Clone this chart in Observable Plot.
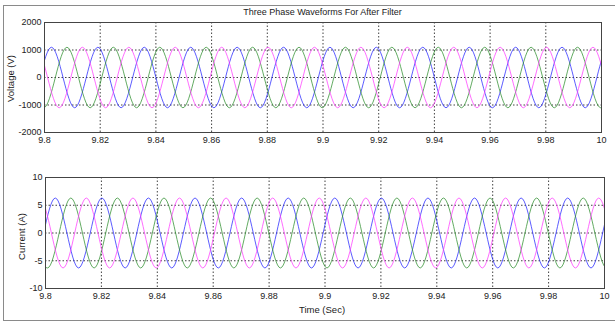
<!DOCTYPE html>
<html>
<head>
<meta charset="utf-8">
<script src="https://cdn.jsdelivr.net/npm/d3@7"></script>
<script src="https://cdn.jsdelivr.net/npm/@observablehq/plot@0.6"></script>
<style>
  html, body { margin: 0; padding: 0; background: #fff; }
  #wrap { position: relative; width: 615px; height: 322px; overflow: hidden; background: #fff; font-family: "Liberation Sans", Arial, sans-serif; }
  #border { position: absolute; left: 3px; top: 5px; width: 700px; height: 314px; border: 1px solid #8a8a8a; }
  #top, #bottom { position: absolute; left: 0; }
  #top { top: 0; }
  #bottom { top: 150px; }
</style>
</head>
<body>
<div id="wrap"><div id="border"></div><div id="top"></div><div id="bottom"></div></div>
<script>
// ---- axis ticks ----
const timeTicks = [9.8, 9.82, 9.84, 9.86, 9.88, 9.9, 9.92, 9.94, 9.96, 9.98, 10];
const timeTickLabels = ["9.8", "9.82", "9.84", "9.86", "9.88", "9.9", "9.92", "9.94", "9.96", "9.98", "10"];
const voltTicks = [-2000, -1000, 0, 1000, 2000];
const voltTickLabels = ["-2000", "-1000", "0", "1000", "2000"];
const currTicks = [-10, -5, 0, 5, 10];
const currTickLabels = ["-10", "-5", "0", "5", "10"];

// ---- phases ----
const phaseNames = ["Phase A", "Phase B", "Phase C"];
const phaseColors = ["#2626ff", "#2f8f2f", "#ff3cff"];

// ---- voltage waveform crests (time of each peak/trough, value) ----
const voltA_t = [9.78583, 9.79417, 9.80250, 9.81083, 9.81917, 9.82750, 9.83583, 9.84417, 9.85250, 9.86083, 9.86917, 9.87750, 9.88583, 9.89417, 9.90250, 9.91083, 9.91917, 9.92750, 9.93583, 9.94417, 9.95250, 9.96083, 9.96917, 9.97750, 9.98583, 9.99417, 10.00250, 10.01083];
const voltA_v = [1100, -1100, 1100, -1100, 1100, -1100, 1100, -1100, 1100, -1100, 1100, -1100, 1100, -1100, 1100, -1100, 1100, -1100, 1100, -1100, 1100, -1100, 1100, -1100, 1100, -1100, 1100, -1100];
const voltB_t = [9.79139, 9.79972, 9.80806, 9.81639, 9.82472, 9.83306, 9.84139, 9.84972, 9.85806, 9.86639, 9.87472, 9.88306, 9.89139, 9.89972, 9.90806, 9.91639, 9.92472, 9.93306, 9.94139, 9.94972, 9.95806, 9.96639, 9.97472, 9.98306, 9.99139, 9.99972, 10.00806, 10.01639];
const voltB_v = [1100, -1100, 1100, -1100, 1100, -1100, 1100, -1100, 1100, -1100, 1100, -1100, 1100, -1100, 1100, -1100, 1100, -1100, 1100, -1100, 1100, -1100, 1100, -1100, 1100, -1100, 1100, -1100];
const voltC_t = [9.78861, 9.79694, 9.80528, 9.81361, 9.82194, 9.83028, 9.83861, 9.84694, 9.85528, 9.86361, 9.87194, 9.88028, 9.88861, 9.89694, 9.90528, 9.91361, 9.92194, 9.93028, 9.93861, 9.94694, 9.95528, 9.96361, 9.97194, 9.98028, 9.98861, 9.99694, 10.00528, 10.01361];
const voltC_v = [-1100, 1100, -1100, 1100, -1100, 1100, -1100, 1100, -1100, 1100, -1100, 1100, -1100, 1100, -1100, 1100, -1100, 1100, -1100, 1100, -1100, 1100, -1100, 1100, -1100, 1100, -1100, 1100];

// ---- current waveform crests ----
const currA_t = [9.78683, 9.79517, 9.80350, 9.81183, 9.82017, 9.82850, 9.83683, 9.84517, 9.85350, 9.86183, 9.87017, 9.87850, 9.88683, 9.89517, 9.90350, 9.91183, 9.92017, 9.92850, 9.93683, 9.94517, 9.95350, 9.96183, 9.97017, 9.97850, 9.98683, 9.99517, 10.00350, 10.01183];
const currA_v = [6.3, -6.3, 6.3, -6.3, 6.3, -6.3, 6.3, -6.3, 6.3, -6.3, 6.3, -6.3, 6.3, -6.3, 6.3, -6.3, 6.3, -6.3, 6.3, -6.3, 6.3, -6.3, 6.3, -6.3, 6.3, -6.3, 6.3, -6.3];
const currB_t = [9.79239, 9.80072, 9.80906, 9.81739, 9.82572, 9.83406, 9.84239, 9.85072, 9.85906, 9.86739, 9.87572, 9.88406, 9.89239, 9.90072, 9.90906, 9.91739, 9.92572, 9.93406, 9.94239, 9.95072, 9.95906, 9.96739, 9.97572, 9.98406, 9.99239, 10.00072, 10.00906, 10.01739];
const currB_v = [6.3, -6.3, 6.3, -6.3, 6.3, -6.3, 6.3, -6.3, 6.3, -6.3, 6.3, -6.3, 6.3, -6.3, 6.3, -6.3, 6.3, -6.3, 6.3, -6.3, 6.3, -6.3, 6.3, -6.3, 6.3, -6.3, 6.3, -6.3];
const currC_t = [9.78961, 9.79794, 9.80628, 9.81461, 9.82294, 9.83128, 9.83961, 9.84794, 9.85628, 9.86461, 9.87294, 9.88128, 9.88961, 9.89794, 9.90628, 9.91461, 9.92294, 9.93128, 9.93961, 9.94794, 9.95628, 9.96461, 9.97294, 9.98128, 9.98961, 9.99794, 10.00628, 10.01461];
const currC_v = [-6.3, 6.3, -6.3, 6.3, -6.3, 6.3, -6.3, 6.3, -6.3, 6.3, -6.3, 6.3, -6.3, 6.3, -6.3, 6.3, -6.3, 6.3, -6.3, 6.3, -6.3, 6.3, -6.3, 6.3, -6.3, 6.3, -6.3, 6.3];

const titleText = "Three Phase Waveforms For After Filter";
const voltLabel = "Voltage (V)";
const currLabel = "Current (A)";
const timeLabel = "Time (Sec)";

// ---- build tables ----
function rows(tList, vList, name) { return tList.map((t, i) => ({t, v: vList[i], phase: name})); }
const voltRows = [].concat(rows(voltA_t, voltA_v, phaseNames[0]), rows(voltB_t, voltB_v, phaseNames[1]), rows(voltC_t, voltC_v, phaseNames[2]));
const currRows = [].concat(rows(currA_t, currA_v, phaseNames[0]), rows(currB_t, currB_v, phaseNames[1]), rows(currC_t, currC_v, phaseNames[2]));

function lookup(ticks, labels) {
  return d => { const i = ticks.findIndex(x => Math.abs(x - d) < 1e-9); return i >= 0 ? labels[i] : ""; };
}

const FONT = "'Liberation Sans', Arial, sans-serif";
const gridStyle = {stroke: "#000", strokeOpacity: 0.75, strokeDasharray: "1.5,2", strokeWidth: 1};

function panel({width, height, mt, mr, mb, ml, yDomain, yTicks, yLabels, data, extra}) {
  return Plot.plot({
    width, height,
    marginTop: mt, marginRight: mr, marginBottom: mb, marginLeft: ml,
    style: {fontFamily: FONT, fontSize: "9px", background: "transparent", color: "#222", overflow: "visible"},
    x: {domain: [9.8, 10]},
    y: {domain: yDomain},
    color: {domain: phaseNames, range: phaseColors},
    marks: [
      Plot.ruleX(timeTicks.slice(1, -1), gridStyle),
      Plot.ruleY(yTicks.slice(1, -1), gridStyle),
      Plot.line(data, {x: "t", y: "v", z: "phase", stroke: "phase", strokeWidth: 1, strokeOpacity: 0.75, curve: "monotone-x", clip: true}),
      Plot.frame({stroke: "#444", strokeWidth: 1}),
      Plot.axisX({ticks: timeTicks, tickFormat: lookup(timeTicks, timeTickLabels), tickSize: 0, tickPadding: 4, label: null, fill: "#222"}),
      Plot.axisY({ticks: yTicks, tickFormat: lookup(yTicks, yLabels), tickSize: 0, tickPadding: 3, label: null, fill: "#222"}),
      ...extra
    ]
  });
}

const topPlot = panel({
  width: 615, height: 150, mt: 22, mr: 14, mb: 18, ml: 44,
  yDomain: [-2000, 2000], yTicks: voltTicks, yLabels: voltTickLabels, data: voltRows,
  extra: [
    Plot.text([titleText], {frameAnchor: "top", dy: -10, dx: -0.5, fontSize: 9, fill: "#222", lineAnchor: "middle"}),
    Plot.text([voltLabel], {frameAnchor: "left", rotate: -90, dx: -34, dy: 1, textAnchor: "middle", lineAnchor: "middle", fontSize: 9.5, fill: "#222"})
  ]
});

const bottomPlot = panel({
  width: 615, height: 172, mt: 27, mr: 11, mb: 34, ml: 45,
  yDomain: [-10, 10], yTicks: currTicks, yLabels: currTickLabels, data: currRows,
  extra: [
    Plot.text([currLabel], {frameAnchor: "left", rotate: -90, dx: -24, dy: 3.5, textAnchor: "middle", lineAnchor: "middle", fontSize: 9.5, fill: "#222"}),
    Plot.text([timeLabel], {frameAnchor: "bottom", dy: 21, dx: -3, fontSize: 9.5, fill: "#222", lineAnchor: "middle"})
  ]
});

document.getElementById("top").appendChild(topPlot);
document.getElementById("bottom").appendChild(bottomPlot);
</script>
</body>
</html>
